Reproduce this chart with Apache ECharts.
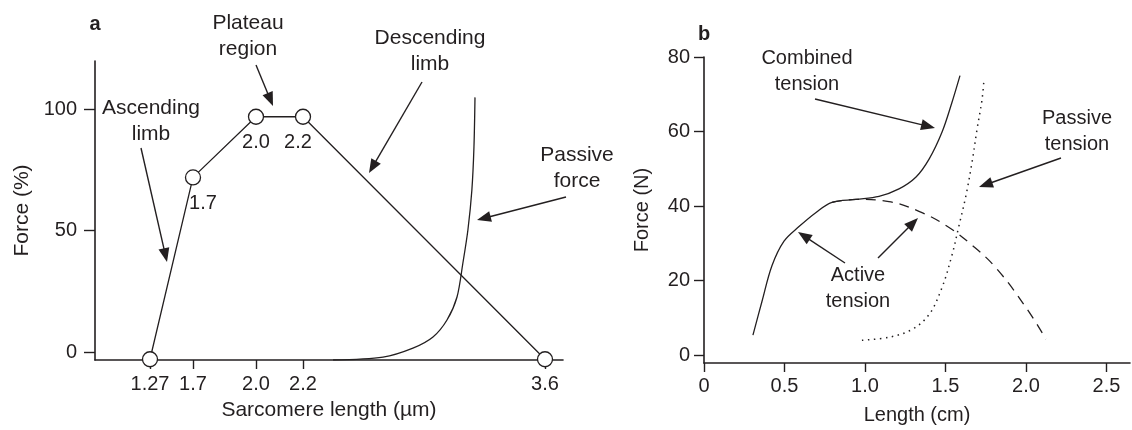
<!DOCTYPE html>
<html><head><meta charset="utf-8">
<script src="https://cdn.jsdelivr.net/npm/echarts@6/dist/echarts.min.js"></script>
<style>html,body{margin:0;padding:0;background:#fff}#c{width:1132px;height:430px}</style>
</head><body><div id="c"></div><script>
// ---------- Panel a: sarcomere length–tension ----------
const sarcLength = [1.27, 1.7, 2.0, 2.2, 3.6];
const sarcForce = [-3, 72, 97, 97, -3];
const sarcPointLabels = ['', '1.7', '2.0', '2.2', ''];
const sarcTickLabels = ['1.27', '1.7', '2.0', '2.2', '3.6'];
const passiveForceX = [2.374, 2.663, 2.836, 2.952, 3.033, 3.091, 3.125, 3.154, 3.177, 3.189, 3.195];
const passiveForceY = [-3.3, -2.1, 1.6, 6.2, 13.2, 22.7, 36.7, 50.3, 66.8, 84.5, 105];
const forceTicksA = [0, 50, 100];

// ---------- Panel b: muscle length–tension ----------
const combinedX = [0.304, 0.360, 0.422, 0.497, 0.590, 0.696, 0.795, 0.944, 1.087, 1.211, 1.317, 1.398, 1.478, 1.540, 1.590];
const combinedY = [5.4, 14.4, 24.0, 30.6, 34.5, 38.3, 41.0, 41.8, 42.6, 44.6, 47.8, 52.6, 59.8, 67.8, 75.0];
const activeX = [0.795, 0.944, 1.149, 1.335, 1.503, 1.665, 1.814, 2.0, 2.124];
const activeY = [41.0, 41.8, 41.2, 38.6, 34.8, 29.5, 23.4, 12.8, 4.3];
const passiveX = [0.981, 1.149, 1.292, 1.398, 1.478, 1.540, 1.584, 1.627, 1.665, 1.696, 1.727, 1.739];
const passiveY = [4.0, 4.8, 6.9, 10.9, 18.1, 26.8, 34.8, 42.8, 51.8, 60.6, 68.6, 73.9];
const lengthTicks = [0, 0.5, 1.0, 1.5, 2.0, 2.5];
const forceTicksB = [0, 20, 40, 60, 80];

// ---------- layout ----------
// Panel a's length axis is schematic (not to scale): piecewise-linear placement of the tick values.
const schematicPos = [150, 193, 256, 303, 545];
function warp(v) {
  const a = sarcLength, p = schematicPos;
  let i = 0;
  if (v <= a[0]) i = 0; else if (v >= a[a.length - 1]) i = a.length - 2;
  else { while (v > a[i + 1]) i++; }
  return p[i] + (v - a[i]) * (p[i + 1] - p[i]) / (a[i + 1] - a[i]);
}

const INK = '#231f20';
const FONT = "'Liberation Sans', Arial, Helvetica, sans-serif";

function zip(xs, ys, f) { return xs.map((x, i) => [f ? f(x) : x, ys[i]]); }

function arrow(x1, y1, x2, y2) {
  const ang = Math.atan2(y2 - y1, x2 - x1);
  const L = 14, W = 5.5;
  const c = Math.cos(ang), s = Math.sin(ang);
  const bx = x2 - L * c, by = y2 - L * s;
  return {
    type: 'group', silent: true, children: [
      { type: 'line', shape: { x1: x1, y1: y1, x2: bx + 2 * c, y2: by + 2 * s }, style: { stroke: INK, lineWidth: 1.4 } },
      { type: 'polygon', shape: { points: [[x2, y2], [bx - W * s, by + W * c], [bx + W * s, by - W * c]] }, style: { fill: INK } }
    ]
  };
}
function txt(str, x, y, size, bold) {
  return {
    type: 'text', x: x, y: y, silent: true,
    style: { text: str, fill: INK, font: (bold ? 'bold ' : '') + size + 'px ' + FONT,
      textAlign: 'center', textVerticalAlign: 'middle', verticalAlign: 'middle', lineHeight: 26 }
  };
}

const axisCommon = {
  axisLine: { onZero: false, lineStyle: { color: INK, width: 1.6 } },
  axisTick: { length: 9, lineStyle: { color: INK, width: 1.4 } },
  axisLabel: { color: INK, fontSize: 20, fontFamily: FONT },
  splitLine: { show: false },
  nameTextStyle: { color: INK, fontSize: 20, fontFamily: FONT }
};
function ax(extra) { return echarts.util.merge(echarts.util.clone(axisCommon), extra, true); }

const chart = echarts.init(document.getElementById('c'), null, { renderer: 'canvas' });
chart.setOption({
  animation: false,
  backgroundColor: '#fff',
  grid: [
    { left: 95, top: 61, width: 468, height: 299 },
    { left: 704, top: 57, width: 426, height: 309 }
  ],
  xAxis: [
    ax({ gridIndex: 0, type: 'value', min: 95, max: 563,
      name: 'Sarcomere length (µm)', nameLocation: 'middle', nameGap: 40,
      nameTextStyle: { fontSize: 21 },
      axisTick: { customValues: sarcLength.map(warp) },
      axisLabel: { margin: 14, customValues: sarcLength.map(warp),
        formatter: function (v) {
          let best = 0, d = 1e9;
          sarcLength.forEach((s, i) => { const dd = Math.abs(warp(s) - v); if (dd < d) { d = dd; best = i; } });
          return sarcTickLabels[best];
        } } }),
    ax({ gridIndex: 1, type: 'value', min: 0, max: 2.646,
      name: 'Length (cm)', nameLocation: 'middle', nameGap: 42,
      axisTick: { customValues: lengthTicks },
      axisLabel: { margin: 13, customValues: lengthTicks,
        formatter: v => (v === 0 ? '0' : v.toFixed(1)) } })
  ],
  yAxis: [
    ax({ gridIndex: 0, type: 'value', min: -3.3, max: 120,
      name: 'Force (%)', nameLocation: 'middle', nameGap: 62,
      nameTextStyle: { fontSize: 21 },
      axisTick: { length: 11, customValues: forceTicksA },
      axisLabel: { margin: 18, customValues: forceTicksA } }),
    ax({ gridIndex: 1, type: 'value', min: -2.1, max: 80,
      name: 'Force (N)', nameLocation: 'middle', nameGap: 52,
      axisTick: { length: 10, customValues: forceTicksB },
      axisLabel: { margin: 14, customValues: forceTicksB } })
  ],
  series: [
    { type: 'line', xAxisIndex: 0, yAxisIndex: 0, smooth: 0.3, showSymbol: false,
      lineStyle: { color: INK, width: 1.3 }, data: zip(passiveForceX, passiveForceY, warp), z: 2 },
    { type: 'line', xAxisIndex: 0, yAxisIndex: 0, symbol: 'circle', symbolSize: 15,
      lineStyle: { color: INK, width: 1.3 },
      itemStyle: { color: '#fff', borderColor: INK, borderWidth: 1.3 },
      data: sarcLength.map((v, i) => ({
        value: [warp(v), sarcForce[i]],
        label: {
          show: sarcPointLabels[i] !== '', position: 'bottom', distance: 8,
          offset: i === 1 ? [10, 0] : (i === 3 ? [-5, 0] : [0, 0]),
          formatter: sarcPointLabels[i], color: INK, fontSize: 20, fontFamily: FONT
        }
      })), z: 3 },
    { type: 'line', xAxisIndex: 1, yAxisIndex: 1, smooth: 0.35, showSymbol: false,
      lineStyle: { color: INK, width: 1.3 }, data: zip(combinedX, combinedY) },
    { type: 'line', xAxisIndex: 1, yAxisIndex: 1, smooth: 0.4, showSymbol: false,
      lineStyle: { color: INK, width: 1.3, type: [10, 7] }, data: zip(activeX, activeY) },
    { type: 'line', xAxisIndex: 1, yAxisIndex: 1, smooth: 0.35, showSymbol: false,
      lineStyle: { color: INK, width: 1.5, type: [1.5, 4.5] }, data: zip(passiveX, passiveY) }
  ],
  graphic: [
    txt('a', 95, 24, 20, true),
    txt('b', 704, 34, 20, true),
    txt('Plateau\nregion', 248, 36, 21),
    arrow(256, 65, 273, 106),
    txt('Ascending\nlimb', 151, 121, 21),
    arrow(141, 148, 167, 262),
    txt('Descending\nlimb', 430, 51, 21),
    arrow(422, 82, 369, 173),
    txt('Passive\nforce', 577, 168, 21),
    arrow(566, 197, 477, 220),
    txt('Combined\ntension', 807, 71, 20),
    arrow(815, 99, 935, 128),
    txt('Passive\ntension', 1077, 131, 20),
    arrow(1061, 158, 979, 187),
    txt('Active\ntension', 858, 288, 20),
    arrow(845, 263, 798, 232),
    arrow(878, 258, 918, 218)
  ]
});
</script></body></html>
